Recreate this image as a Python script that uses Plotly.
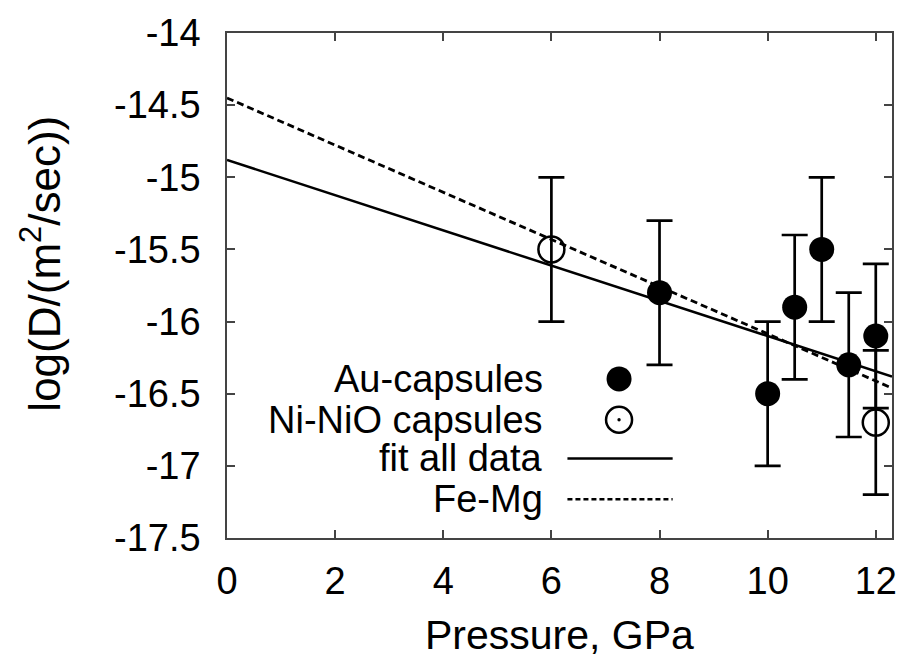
import plotly.graph_objects as go

# ---- data ----
au_p = [8, 10, 10.5, 11, 11.5, 12]
au_logD = [-15.8, -16.5, -15.9, -15.5, -16.3, -16.1]
au_err = [0.5, 0.5, 0.5, 0.5, 0.5, 0.5]

ni_p = [6, 12]
ni_logD = [-15.5, -16.7]
ni_err = [0.5, 0.5]

fit_intercept = -14.88
fit_slope = -0.122
femg_intercept = -14.45
femg_slope = -0.1635

x_range = [0, 12.3]
y_range = [-17.5, -14]
x_ticks = [0, 2, 4, 6, 8, 10, 12]
x_ticklabels = ["0", "2", "4", "6", "8", "10", "12"]
y_ticks = [-17.5, -17, -16.5, -16, -15.5, -15, -14.5, -14]
y_ticklabels = ["-17.5", "-17", "-16.5", "-16", "-15.5", "-15", "-14.5", "-14"]

legend_labels = ["Au-capsules", "Ni-NiO capsules", "fit all data", "Fe-Mg"]

FONT = "Liberation Sans, Arial, Helvetica, sans-serif"
FS = 38

fig = go.Figure()

line_x = [x_range[0], x_range[1]]
fig.add_trace(go.Scatter(x=line_x, y=[fit_intercept + fit_slope * v for v in line_x],
                         mode="lines", line=dict(color="black", width=2.5),
                         showlegend=False, hoverinfo="skip"))
fig.add_trace(go.Scatter(x=line_x, y=[femg_intercept + femg_slope * v for v in line_x],
                         mode="lines", line=dict(color="black", width=2.8, dash="7px,4px"),
                         showlegend=False, hoverinfo="skip"))

fig.add_trace(go.Scatter(x=au_p, y=au_logD, mode="markers",
                         marker=dict(symbol="circle", size=25, color="black"),
                         error_y=dict(type="data", array=au_err, visible=True,
                                      color="black", thickness=2.7, width=13),
                         showlegend=False))
fig.add_trace(go.Scatter(x=ni_p, y=ni_logD, mode="markers",
                         marker=dict(symbol="circle-open", size=26, color="black",
                                     line=dict(width=2.5, color="black")),
                         error_y=dict(type="data", array=ni_err, visible=True,
                                      color="black", thickness=2.7, width=13),
                         showlegend=False))

# ---- manual gnuplot-style key ----
L, R, T, B = 227, 897, 30, 538
W, H = R - L, B - T

def px(xp):
    return (xp - L) / W

def py(yp):
    return (B - yp) / H

row_y = [378, 419, 458, 499]
text_right = 547
sample_x0, sample_x1, marker_x = 570, 676, 622

annotations = []
for lab, yy in zip(legend_labels, row_y):
    annotations.append(dict(x=px(text_right), y=py(yy), xref="paper", yref="paper",
                            text=lab, showarrow=False, xanchor="right", yanchor="middle",
                            font=dict(family=FONT, size=FS, color="black")))

shapes = []
shapes.append(dict(type="circle", xref="paper", yref="paper", xsizemode="pixel", ysizemode="pixel",
                   xanchor=px(marker_x), yanchor=py(row_y[0]), x0=-12.5, x1=12.5, y0=-12.5, y1=12.5,
                   fillcolor="black", line=dict(width=0)))
shapes.append(dict(type="circle", xref="paper", yref="paper", xsizemode="pixel", ysizemode="pixel",
                   xanchor=px(marker_x), yanchor=py(row_y[1]), x0=-13, x1=13, y0=-13, y1=13,
                   fillcolor="rgba(0,0,0,0)", line=dict(width=2.5, color="black")))
shapes.append(dict(type="circle", xref="paper", yref="paper", xsizemode="pixel", ysizemode="pixel",
                   xanchor=px(marker_x), yanchor=py(row_y[1]), x0=-1.7, x1=1.7, y0=-1.7, y1=1.7,
                   fillcolor="black", line=dict(width=0)))
shapes.append(dict(type="line", xref="paper", yref="paper", x0=px(sample_x0), x1=px(sample_x1),
                   y0=py(row_y[2]), y1=py(row_y[2]), line=dict(color="black", width=2.5)))
shapes.append(dict(type="line", xref="paper", yref="paper", x0=px(sample_x0), x1=px(sample_x1),
                   y0=py(row_y[3]), y1=py(row_y[3]), line=dict(color="black", width=2.5, dash="5px,3px")))

# axis titles
annotations.append(dict(x=0.5, y=0, xref="paper", yref="paper", text="Pressure, GPa",
                        showarrow=False, xanchor="center", yanchor="middle", yshift=-97,
                        font=dict(family=FONT, size=41, color="black")))
annotations.append(dict(x=0, y=py(262), xref="paper", yref="paper",
                        text="log(D/(m<sup>2</sup>/sec))", textangle=-90,
                        showarrow=False, xanchor="center", yanchor="middle", xshift=-186,
                        font=dict(family=FONT, size=44, color="black")))

axis_common = dict(showgrid=False, zeroline=False, showline=True, mirror="allticks",
                   linecolor="#444444", linewidth=1.5, ticks="inside", ticklen=8,
                   tickwidth=1.5, tickcolor="#444444",
                   tickfont=dict(family=FONT, size=FS, color="black"))

fig.update_layout(
    width=909, height=662,
    margin=dict(l=L, r=909 - R, t=T, b=662 - B, pad=0),
    paper_bgcolor="white", plot_bgcolor="white",
    showlegend=False,
    xaxis=dict(range=x_range, tickvals=x_ticks, ticktext=x_ticklabels,
               ticklabelstandoff=9, **axis_common),
    yaxis=dict(range=y_range, tickvals=y_ticks, ticktext=y_ticklabels,
               ticklabelstandoff=17, **axis_common),
    annotations=annotations,
    shapes=shapes,
)

fig.write_html("out.html")
